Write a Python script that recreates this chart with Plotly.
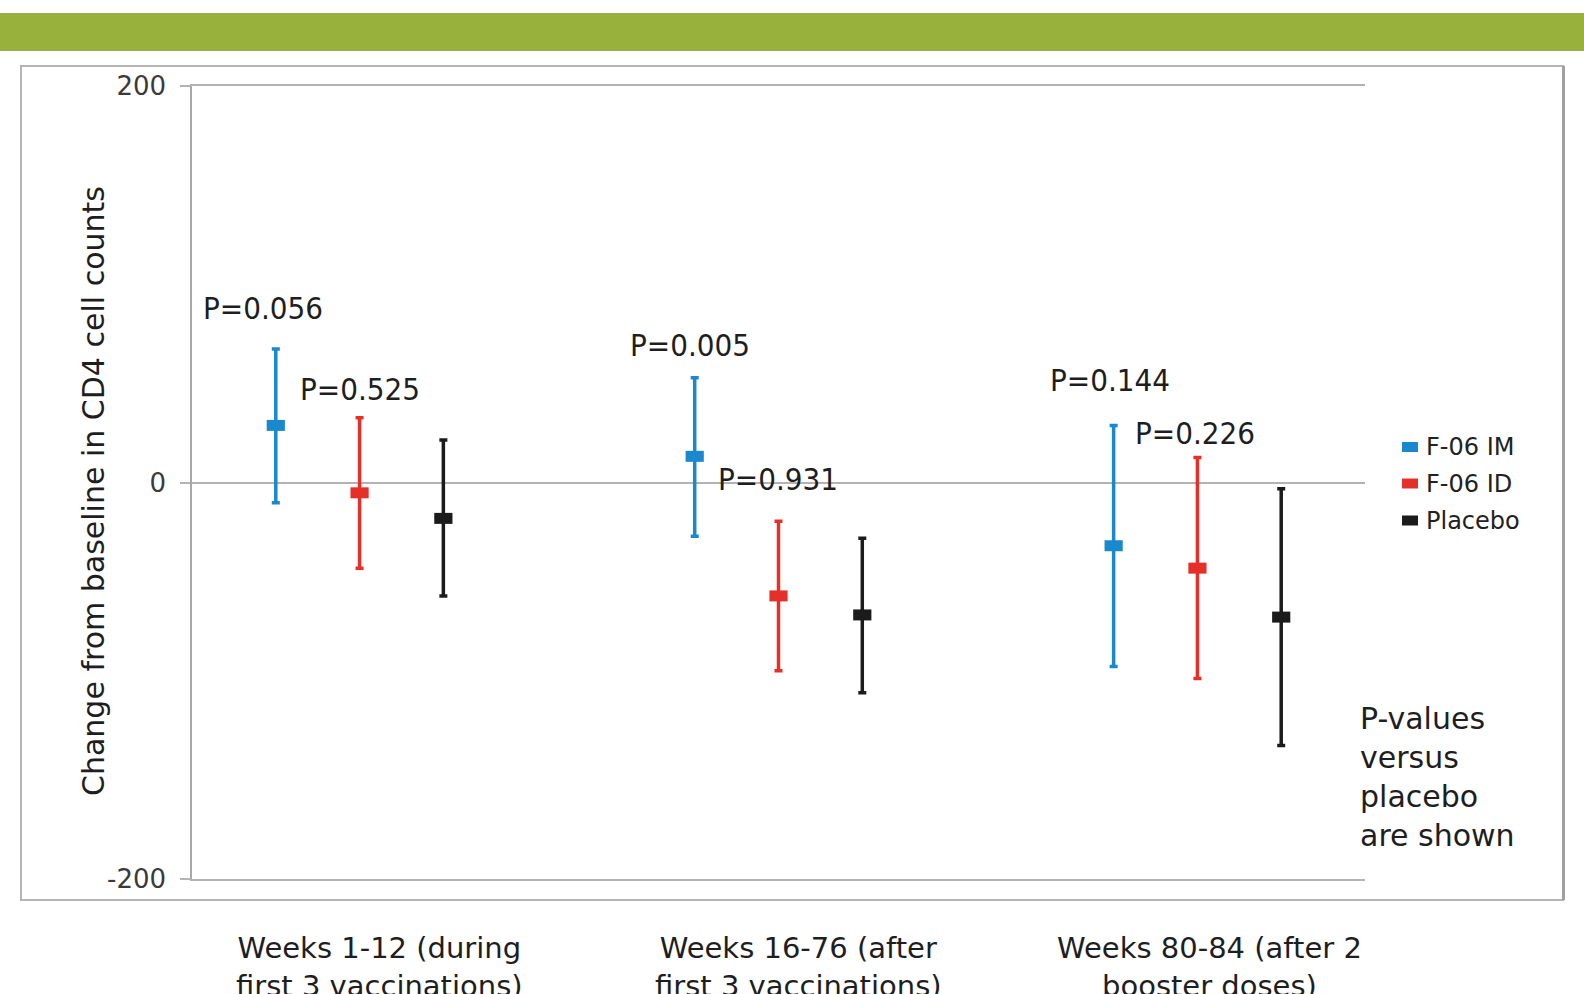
import plotly.graph_objects as go

# Time windows (x categories)
categories = [
    "Weeks 1-12 (during<br>first 3 vaccinations)",
    "Weeks 16-76 (after<br>first 3 vaccinations)",
    "Weeks 80-84 (after 2<br>booster doses)",
]

# Treatment arms
arms = ["F-06 IM", "F-06 ID", "Placebo"]
arm_colors = ["#1a88cc", "#e5302a", "#1b1b1b"]

# Change from baseline in CD4 cell counts: mean and interval bounds per window
im_mean = [28.8, 13.2, -31.9]
im_upper = [67.4, 52.9, 28.8]
im_lower = [-10.2, -27.1, -92.8]

id_mean = [-5.2, -57.2, -43.2]
id_upper = [32.6, -19.5, 12.6]
id_lower = [-43.2, -94.9, -98.9]

pl_mean = [-18.1, -66.8, -67.9]
pl_upper = [21.5, -28.1, -3.2]
pl_lower = [-57.3, -106.1, -132.7]

# P-values versus placebo
p_values = ["P=0.056", "P=0.525", "P=0.005", "P=0.931", "P=0.144", "P=0.226"]

y_ticks = [-200, 0, 200]

# ---- layout geometry (pixels of the 1584x994 page) ----
W, H = 1584, 994
PLOT_L, PLOT_R, PLOT_T, PLOT_B = 192, 1365, 86, 879


def px_x(px):
    return (px - PLOT_L) / (PLOT_R - PLOT_L)


def px_y(py):
    return (PLOT_B - py) / (PLOT_B - PLOT_T)


TEXT_FONT = "DejaVu Sans"
COND_FONT = "DejaVu Sans Condensed"
GRID = "#b3b3b3"

series = [
    (im_mean, im_upper, im_lower),
    (id_mean, id_upper, id_lower),
    (pl_mean, pl_upper, pl_lower),
]
offsets = [-0.2, 0.0, 0.2]

fig = go.Figure()
for name, color, off, (mean, upper, lower) in zip(arms, arm_colors, offsets, series):
    xs = [i + off for i in range(len(categories))]
    fig.add_trace(
        go.Scatter(
            x=xs,
            y=mean,
            mode="markers",
            name=name,
            showlegend=False,
            marker=dict(
                symbol="line-ew",
                size=13,
                color=color,
                line=dict(color=color, width=11),
            ),
            error_y=dict(
                type="data",
                symmetric=False,
                array=[u - m for u, m in zip(upper, mean)],
                arrayminus=[m - l for m, l in zip(mean, lower)],
                color=color,
                thickness=3.5,
                width=4,
            ),
        )
    )

annotations = []

# P-value labels (x in category units, y in CD4 units)
p_pos = [
    (-0.3785, 88.1),
    (-0.147, 47.3),
    (0.6406, 69.5),
    (0.8506, 1.9),
    (1.643, 51.8),
    (1.8458, 25.1),
]
for txt, (x, y) in zip(p_values, p_pos):
    annotations.append(
        dict(
            x=x, y=y, xref="x", yref="y", text=txt, showarrow=False,
            xanchor="left", yanchor="middle",
            font=dict(family=COND_FONT, size=31, color="#1e1e1e"),
        )
    )

# Category labels under the panel
cat_centers = [379, 798, 1209]
for txt, cx in zip(categories, cat_centers):
    annotations.append(
        dict(
            x=px_x(cx), y=px_y(967), xref="paper", yref="paper", text=txt,
            showarrow=False, xanchor="center", yanchor="middle", align="center",
            font=dict(family=TEXT_FONT, size=29, color="#1e1e1e"),
        )
    )

# Y-axis title
annotations.append(
    dict(
        x=px_x(93), y=px_y(491), xref="paper", yref="paper",
        text="Change from baseline in CD4 cell counts", showarrow=False,
        textangle=-90, xanchor="center", yanchor="middle",
        font=dict(family=TEXT_FONT, size=30, color="#1e1e1e"),
    )
)

# Note on the right
annotations.append(
    dict(
        x=px_x(1358), y=px_y(777), xref="paper", yref="paper",
        text="P-values<br>versus<br>placebo<br>are shown", showarrow=False,
        xanchor="left", yanchor="middle", align="left",
        font=dict(family=TEXT_FONT, size=30, color="#1e1e1e"),
    )
)

shapes = []

# Green header band
shapes.append(
    dict(type="rect", xref="paper", yref="paper",
         x0=px_x(0), x1=px_x(W), y0=px_y(51), y1=px_y(13),
         fillcolor="#97b13c", line=dict(width=0), layer="below")
)
# Panel frame
shapes.append(
    dict(type="rect", xref="paper", yref="paper",
         x0=px_x(21), x1=px_x(1563), y0=px_y(900), y1=px_y(66),
         fillcolor="rgba(0,0,0,0)", line=dict(color="#b5b5b5", width=2), layer="below")
)
shapes.append(
    dict(type="line", xref="paper", yref="paper",
         x0=px_x(1563.5), x1=px_x(1563.5), y0=px_y(900), y1=px_y(66),
         line=dict(color="#a0a0a0", width=3), layer="below")
)

# Legend: colour swatches and names
legend_rows = [447, 483.5, 520.5]
for name, color, ry in zip(arms, arm_colors, legend_rows):
    shapes.append(
        dict(type="rect", xref="paper", yref="paper",
             x0=px_x(1402), x1=px_x(1418), y0=px_y(ry + 5), y1=px_y(ry - 5),
             fillcolor=color, line=dict(width=0))
    )
    annotations.append(
        dict(
            x=px_x(1424), y=px_y(ry), xref="paper", yref="paper", text=name,
            showarrow=False, xanchor="left", yanchor="middle",
            font=dict(family=TEXT_FONT, size=24, color="#222222"),
        )
    )

fig.update_layout(
    width=W,
    height=H,
    margin=dict(l=PLOT_L, r=W - PLOT_R, t=PLOT_T, b=H - PLOT_B, pad=0),
    paper_bgcolor="white",
    plot_bgcolor="white",
    showlegend=False,
    annotations=annotations,
    shapes=shapes,
    xaxis=dict(
        range=[-0.4, 2.4],
        showticklabels=False,
        showgrid=False,
        zeroline=False,
        showline=True,
        mirror=True,
        linecolor=GRID,
        linewidth=1.5,
        ticks="",
        fixedrange=True,
    ),
    yaxis=dict(
        range=[-200, 200],
        tickvals=y_ticks,
        ticktext=[str(v) for v in y_ticks],
        showgrid=True,
        gridcolor=GRID,
        gridwidth=1.5,
        zeroline=False,
        showline=True,
        linecolor="#a8a8a8",
        linewidth=1.5,
        ticks="outside",
        ticklen=10,
        tickwidth=1.5,
        tickcolor=GRID,
        ticklabelstandoff=9,
        tickfont=dict(family=TEXT_FONT, size=26, color="#3a3a3a"),
        fixedrange=True,
    ),
)

fig.write_html("out.html", config={"displayModeBar": False})
